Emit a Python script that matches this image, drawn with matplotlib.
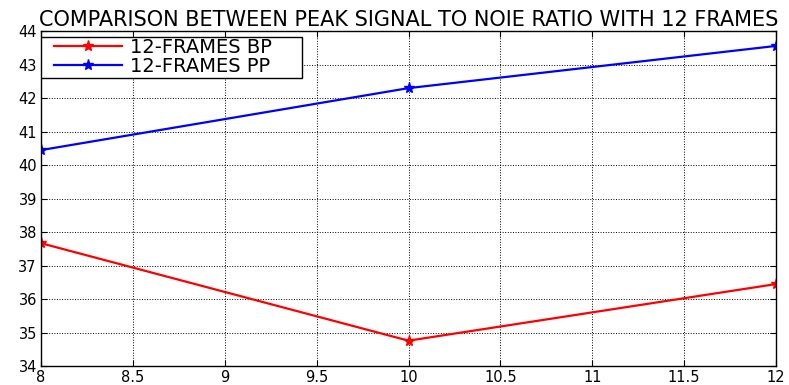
import matplotlib.pyplot as plt
from matplotlib.patches import Rectangle

# frame counts and PSNR values
frames = [8, 10, 12]
psnr_bp = [37.67, 34.76, 36.45]
psnr_pp = [40.45, 42.30, 43.56]

plt.rcParams['font.family'] = ['DejaVu Sans']

fig = plt.figure(figsize=(7.89, 3.85), dpi=100)
ax = fig.add_axes([0.052, 0.049, 0.9315, 0.870])

ax.plot(frames, psnr_bp, color='red', lw=1.6, marker='*', ms=8, label='12-FRAMES BP')
ax.plot(frames, psnr_pp, color='blue', lw=1.6, marker='*', ms=8, label='12-FRAMES PP')

ax.set_xlim(8, 12)
ax.set_ylim(34, 44)
ax.set_xticks([8, 8.5, 9, 9.5, 10, 10.5, 11, 11.5, 12])
ax.set_xticklabels(['8', '8.5', '9', '9.5', '10', '10.5', '11', '11.5', '12'])
ax.set_yticks(range(34, 45))
ax.tick_params(direction='in', labelsize=10.5, top=True, right=True, length=4, pad=3)
ax.grid(True, color='black', linestyle=':', linewidth=0.7)
for s in ax.spines.values():
    s.set_linewidth(1.0)

ax.set_title('COMPARISON BETWEEN PEAK SIGNAL TO NOIE RATIO WITH 12 FRAMES', fontsize=15, pad=4)

# legend box drawn separately so it can be wider than the default padding
ax.add_patch(Rectangle((0, 0.860), 0.355, 0.123, transform=ax.transAxes,
                       facecolor='white', edgecolor='black', lw=1.0, zorder=4))
leg = ax.legend(loc='upper left', bbox_to_anchor=(0.0177, 0.98), borderaxespad=0,
                fontsize=14, frameon=False, handlelength=3.5, handletextpad=0.4,
                labelspacing=0.0, borderpad=0)
leg.set_zorder(5)

fig.savefig('out.png', dpi=100)
